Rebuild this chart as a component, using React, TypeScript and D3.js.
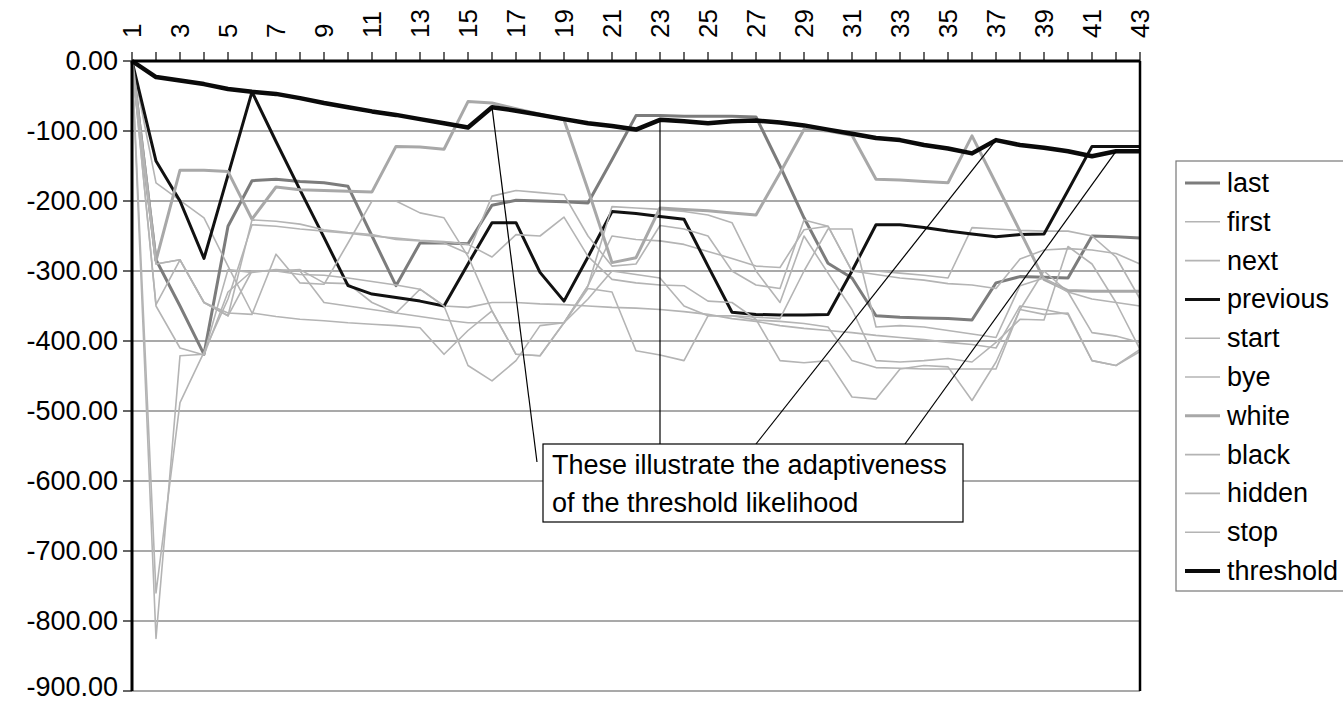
import React from "react";
import * as d3 from "d3";

// Category positions 1..43 along the top axis
const categories = [
  1, 2, 3, 4, 5, 6, 7, 8, 9, 10, 11, 12, 13, 14, 15, 16, 17, 18, 19, 20, 21, 22,
  23, 24, 25, 26, 27, 28, 29, 30, 31, 32, 33, 34, 35, 36, 37, 38, 39, 40, 41, 42, 43,
];
const yTickValues = [0, -100, -200, -300, -400, -500, -600, -700, -800, -900];

const last = [
  0, -284, -350, -419, -236, -171, -169, -172, -174, -179,
  -250, -321, -260, -260, -261, -206, -199, -200, -201, -203,
  -141, -78, -78, -79, -79, -79, -80, -150, -224, -289,
  -310, -364, -366, -367, -368, -370, -317, -308, -309, -310,
  -250, -251, -253,
];
const first = [
  0, -174, -199, -224, -293, -360, -365, -369, -371, -374,
  -376, -378, -381, -419, -385, -357, -419, -421, -374, -321,
  -250, -255, -257, -262, -272, -282, -293, -295, -241, -236,
  -300, -300, -303, -306, -310, -238, -240, -242, -243, -243,
  -250, -280, -340,
];
const next = [
  0, -348, -284, -345, -364, -300, -300, -298, -317, -318,
  -345, -360, -326, -350, -352, -345, -345, -347, -348, -350,
  -352, -353, -355, -358, -362, -368, -372, -378, -382, -385,
  -388, -392, -395, -398, -402, -405, -410, -350, -355, -362,
  -428, -435, -412,
];
const previous = [
  0, -143, -200, -282, -163, -44, -115, -184, -252, -321,
  -333, -338, -343, -350, -290, -231, -231, -302, -343, -280,
  -215, -218, -222, -226, -293, -359, -362, -363, -363, -362,
  -300, -234, -234, -238, -243, -247, -251, -248, -247, -185,
  -122, -122, -122,
];
const start = [
  0, -825, -421, -419, -298, -302, -298, -300, -345, -350,
  -355, -360, -365, -370, -374, -374, -374, -374, -374, -321,
  -208, -210, -212, -215, -220, -231, -300, -345, -250, -303,
  -355, -428, -430, -428, -425, -430, -402, -369, -370, -265,
  -290, -345, -412,
];
const bye = [
  0, -760, -488, -416, -340, -234, -236, -240, -243, -246,
  -250, -253, -256, -258, -262, -280, -248, -250, -223, -279,
  -312, -317, -320, -321, -343, -345, -369, -428, -431, -428,
  -480, -483, -440, -435, -437, -485, -430, -355, -300, -330,
  -388, -393, -402,
];
const white = [
  0, -285, -156, -156, -158, -226, -180, -184, -185, -186,
  -187, -122, -123, -126, -58, -60, -68, -76, -84, -184,
  -288, -281, -210, -212, -214, -217, -220, -160, -98, -100,
  -106, -169, -170, -172, -174, -107, -175, -243, -312, -328,
  -329, -329, -329,
];
const black = [
  0, -290, -284, -345, -364, -227, -229, -233, -241, -245,
  -248, -255, -257, -260, -275, -193, -185, -188, -191, -250,
  -293, -290, -235, -240, -250, -300, -320, -325, -227, -236,
  -300, -305, -310, -313, -318, -320, -325, -283, -270, -268,
  -270, -275, -290,
];
const hidden = [
  0, -290, -284, -345, -360, -362, -276, -317, -319, -260,
  -200, -200, -217, -224, -279, -357, -419, -421, -374, -340,
  -300, -305, -310, -350, -364, -364, -366, -368, -300, -240,
  -240, -380, -378, -380, -385, -390, -395, -321, -310, -330,
  -340, -345, -350,
];
const stop = [
  0, -350, -410, -420, -330, -300, -300, -305, -306, -310,
  -315, -320, -326, -350, -435, -457, -428, -378, -374, -325,
  -330, -414, -420, -428, -364, -364, -370, -372, -375, -380,
  -428, -438, -439, -440, -440, -440, -440, -355, -362, -360,
  -428, -435, -415,
];
const threshold = [
  0, -23, -28, -33, -40, -44, -47, -53, -60, -66,
  -72, -77, -83, -89, -95, -66, -71, -77, -83, -89,
  -93, -98, -84, -86, -89, -86, -85, -88, -92, -98,
  -104, -110, -113, -120, -125, -132, -113, -120, -124, -129,
  -136, -129, -129,
];

const seriesNames = [
  "last", "first", "next", "previous", "start", "bye",
  "white", "black", "hidden", "stop", "threshold",
];
const seriesValues = [
  last, first, next, previous, start, bye, white, black, hidden, stop, threshold,
];

// Category indices the annotation leaders point at (on the threshold series)
const annotationTargets = [16, 23, 37, 42];
const annotationLines = [
  "These illustrate the adaptiveness",
  "of the threshold likelihood",
];

const LIGHT = "#b4b4b4";
const seriesStyle: Record<string, { color: string; width: number }> = {
  last: { color: "#7c7c7c", width: 3 },
  first: { color: LIGHT, width: 1.6 },
  next: { color: LIGHT, width: 1.6 },
  previous: { color: "#111111", width: 3 },
  start: { color: LIGHT, width: 1.6 },
  bye: { color: LIGHT, width: 1.6 },
  white: { color: "#a8a8a8", width: 3 },
  black: { color: LIGHT, width: 1.6 },
  hidden: { color: LIGHT, width: 1.6 },
  stop: { color: LIGHT, width: 1.6 },
  threshold: { color: "#0a0a0a", width: 4.5 },
};

const FONT = "'Liberation Sans', Arial, sans-serif";

export default function App() {
  const W = 1343;
  const H = 702;
  const left = 132;
  const right = 1140;
  const top = 61;
  const bottom = 691;

  const x = d3.scaleLinear().domain([1, 43]).range([left, right]);
  const y = d3.scaleLinear().domain([0, -900]).range([top, bottom]);

  const line = d3
    .line<number>()
    .x((_, i) => x(categories[i]))
    .y((d) => y(d));

  // annotation box
  const boxX = 543;
  const boxY = 444;
  const boxW = 420;
  const boxH = 78;
  const leaderEnds: [number, number][] = [
    [537, 462],
    [x(23), boxY],
    [756, boxY],
    [905, boxY],
  ];

  // legend
  const legX = 1176;
  const legY = 161;
  const legRow0 = 183;
  const legStep = 38.8;

  return (
    <svg
      width={W}
      height={H}
      style={{ position: "absolute", left: 0, top: 0, background: "#fff" }}
      fontFamily={FONT}
    >
      <rect x={0} y={0} width={W} height={H} fill="#fff" />

      {/* horizontal gridlines */}
      {yTickValues.map((v) => (
        <line
          key={"g" + v}
          x1={left}
          x2={right}
          y1={y(v)}
          y2={y(v)}
          stroke="#555"
          strokeWidth={1.2}
        />
      ))}

      {/* value axis ticks and labels (bottom label kept inside the page) */}
      {yTickValues.map((v) => (
        <g key={"yt" + v}>
          <line x1={left - 9} x2={left} y1={y(v)} y2={y(v)} stroke="#000" strokeWidth={1.2} />
          <text
            x={118}
            y={Math.min(y(v), H - 15)}
            textAnchor="end"
            dominantBaseline="central"
            fontSize={27}
            fill="#000"
          >
            {v.toFixed(2)}
          </text>
        </g>
      ))}

      {/* category axis on top */}
      {categories.map((c) => (
        <line
          key={"xt" + c}
          x1={x(c)}
          x2={x(c)}
          y1={top - 9}
          y2={top}
          stroke="#000"
          strokeWidth={1.2}
        />
      ))}
      {categories
        .filter((c) => c % 2 === 1)
        .map((c) => (
          <text
            key={"xl" + c}
            transform={`translate(${x(c)},${38}) rotate(-90)`}
            textAnchor="start"
            dominantBaseline="central"
            fontSize={26}
            fill="#000"
          >
            {c}
          </text>
        ))}

      {/* series */}
      {seriesNames.map((name, k) => (
        <path
          key={name}
          d={line(seriesValues[k]) || ""}
          fill="none"
          stroke={seriesStyle[name].color}
          strokeWidth={seriesStyle[name].width}
          strokeLinejoin="round"
        />
      ))}

      {/* plot frame */}
      <line x1={left} x2={right} y1={top} y2={top} stroke="#000" strokeWidth={3} />
      <line x1={left} x2={left} y1={top} y2={bottom} stroke="#000" strokeWidth={3} />
      <line x1={right} x2={right} y1={top} y2={bottom} stroke="#000" strokeWidth={2.5} />

      {/* annotation leaders */}
      {annotationTargets.map((c, k) => (
        <line
          key={"ld" + c}
          x1={x(c)}
          y1={y(threshold[c - 1])}
          x2={leaderEnds[k][0]}
          y2={leaderEnds[k][1]}
          stroke="#000"
          strokeWidth={1.2}
        />
      ))}
      <rect
        x={boxX}
        y={boxY}
        width={boxW}
        height={boxH}
        fill="#fff"
        stroke="#000"
        strokeWidth={1.2}
      />
      {annotationLines.map((t, k) => (
        <text key={"an" + k} x={boxX + 9} y={boxY + 21 + k * 38} dominantBaseline="central" fontSize={27} fill="#000">
          {t}
        </text>
      ))}

      {/* legend */}
      <rect
        x={legX}
        y={legY}
        width={W - legX + 10}
        height={430}
        fill="#fff"
        stroke="#777"
        strokeWidth={1.2}
      />
      {seriesNames.map((name, k) => {
        const ry = legRow0 + k * legStep;
        return (
          <g key={"lg" + name}>
            <line
              x1={1185}
              x2={1220}
              y1={ry}
              y2={ry}
              stroke={seriesStyle[name].color}
              strokeWidth={Math.min(seriesStyle[name].width, 4)}
            />
            <text x={1227} y={ry} dominantBaseline="central" fontSize={27} fill="#000">
              {name}
            </text>
          </g>
        );
      })}
    </svg>
  );
}
